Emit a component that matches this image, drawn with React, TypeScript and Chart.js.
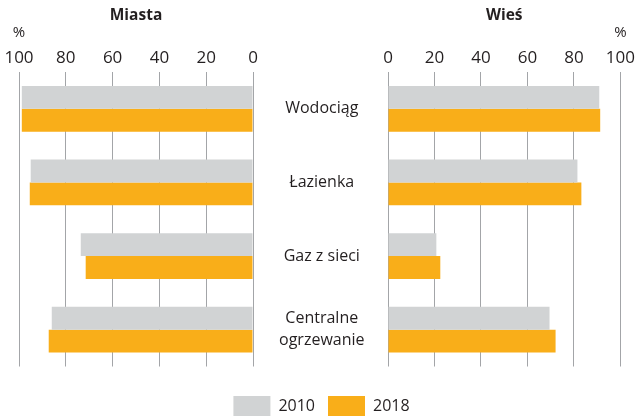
import React, { useEffect, useRef } from 'react';
import { Chart, registerables } from 'chart.js';

Chart.register(...registerables);

const categories: (string | string[])[] = ['Wodociąg', 'Łazienka', 'Gaz z sieci', ['Centralne', 'ogrzewanie']];
const seriesNames = ['2010', '2018'];
const miasta2010 = [98.8, 95.0, 73.6, 86.0];
const miasta2018 = [98.8, 95.4, 71.5, 87.3];
const wies2010 = [90.9, 81.5, 20.8, 69.5];
const wies2018 = [91.3, 83.2, 22.5, 72.1];
const tickValues = [0, 20, 40, 60, 80, 100];
const titleMiasta = 'Miasta';
const titleWies = 'Wieś';
const unitLabel = '%';

const GRAY = '#d1d3d4';
const ORANGE = '#f9ae19';
const TEXT = '#231f20';
const GRID = '#a3a5a8';
const FONT = "'Open Sans', sans-serif";

const W = 639;
const H = 419;

const unitPlugin = {
  id: 'unitPlugin',
  afterDraw(chart: any) {
    const s = chart.scales.x;
    const ctx = chart.ctx;
    ctx.save();
    ctx.fillStyle = TEXT;
    ctx.font = `15px ${FONT}`;
    ctx.textAlign = 'center';
    ctx.textBaseline = 'middle';
    ctx.fillText(unitLabel, s.getPixelForValue(100), s.top - 11);
    ctx.restore();
  },
};

function xScale(reverse: boolean) {
  return {
    type: 'linear' as const,
    position: 'top' as const,
    reverse,
    min: 0,
    max: 100,
    afterBuildTicks: (scale: any) => {
      scale.ticks = tickValues.map((v) => ({ value: v }));
    },
    ticks: {
      color: TEXT,
      font: { family: FONT, size: 17 },
      padding: 4,
    },
    grid: { color: GRID, lineWidth: 1, drawTicks: false },
    border: { display: false },
  };
}

const titleOpts = (text: string) => ({
  display: true,
  text,
  fullSize: false,
  color: TEXT,
  font: { family: FONT, size: 15.5, weight: 'bold' as const },
  padding: { top: 0, bottom: 19 },
});

export default function App() {
  const leftRef = useRef<HTMLCanvasElement>(null);
  const rightRef = useRef<HTMLCanvasElement>(null);

  useEffect(() => {
    const left = new Chart(leftRef.current!, {
      type: 'bar',
      data: {
        labels: categories as any,
        datasets: [
          { label: seriesNames[0], data: miasta2010, backgroundColor: GRAY, categoryPercentage: 0.622, barPercentage: 1 },
          { label: seriesNames[1], data: miasta2018, backgroundColor: ORANGE, categoryPercentage: 0.622, barPercentage: 1 },
        ],
      },
      options: {
        indexAxis: 'y',
        responsive: false,
        animation: false,
        layout: { padding: { left: 19, right: W - 253, top: 6, bottom: 52.5 } },
        scales: {
          x: xScale(true) as any,
          y: { display: false },
        },
        plugins: {
          legend: { display: false },
          tooltip: { enabled: false },
          title: titleOpts(titleMiasta) as any,
        },
      },
      plugins: [unitPlugin],
    });

    const right = new Chart(rightRef.current!, {
      type: 'bar',
      data: {
        labels: categories as any,
        datasets: [
          { label: seriesNames[0], data: wies2010, backgroundColor: GRAY, categoryPercentage: 0.622, barPercentage: 1 },
          { label: seriesNames[1], data: wies2018, backgroundColor: ORANGE, categoryPercentage: 0.622, barPercentage: 1 },
        ],
      },
      options: {
        indexAxis: 'y',
        responsive: false,
        animation: false,
        layout: { padding: { left: 21, right: W - 622, top: 6, bottom: -7 } },
        scales: {
          x: xScale(false) as any,
          y: {
            position: 'left',
            afterFit: (scale: any) => {
              scale.width = 388 - 21;
            },
            ticks: {
              color: TEXT,
              font: { family: FONT, size: 16, lineHeight: 1.375 },
              crossAlign: 'center',
              padding: 23.5,
            },
            grid: { display: false, drawTicks: false },
            border: { display: false },
          },
        },
        plugins: {
          legend: {
            display: true,
            position: 'bottom',
            title: {
              display: true,
              text: ' ',
              font: { family: FONT, size: 10, lineHeight: 1 },
              padding: { top: 6.5, bottom: 0 },
            },
            labels: {
              color: TEXT,
              font: { family: FONT, size: 16 },
              boxWidth: 37,
              boxHeight: 20,
              padding: 13,
            },
          },
          tooltip: { enabled: false },
          title: titleOpts(titleWies) as any,
        },
      },
      plugins: [unitPlugin],
    });

    return () => {
      left.destroy();
      right.destroy();
    };
  }, []);

  return (
    <div style={{ position: 'absolute', left: 0, top: 0, width: W, height: H, background: '#fff' }}>
      <canvas ref={rightRef} width={W} height={H} style={{ position: 'absolute', left: 0, top: 0 }} />
      <canvas ref={leftRef} width={W} height={H} style={{ position: 'absolute', left: 0, top: 0 }} />
    </div>
  );
}
